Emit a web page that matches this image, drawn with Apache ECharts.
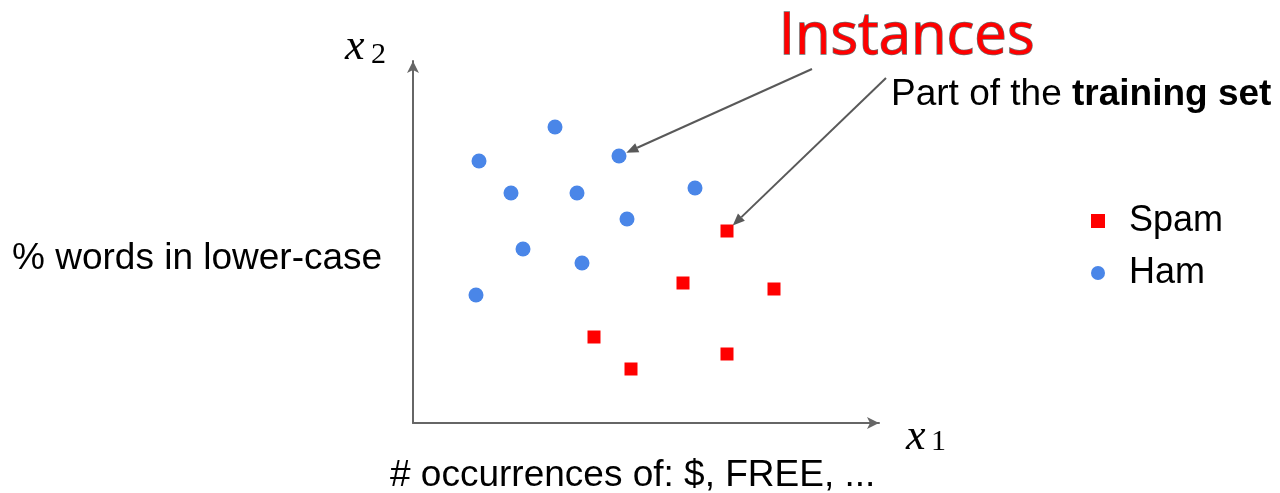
<!DOCTYPE html>
<html>
<head>
<meta charset="utf-8">
<script src="https://cdn.jsdelivr.net/npm/echarts@6/dist/echarts.min.js"></script>
<style>
html,body{margin:0;padding:0;background:#fff;}
#chart{width:1280px;height:493px;}
</style>
</head>
<body>
<div id="chart"></div>
<script>
// ---- data (arbitrary units) ----
const seriesNames = ['Spam', 'Ham'];
const hamX  = [142, 66, 206, 98, 164, 282, 214, 110, 169, 63];
const hamY  = [296, 262, 267, 230, 230, 235, 204, 174, 160, 128];
const spamX = [314, 270, 361, 181, 218, 314];
const spamY = [192, 140, 134, 86, 54, 69];
const xMax = 466;
const yMax = 362;
// annotation arrows: tail position (data units) and index of the target point
const instTail = [399, 354];   // from "Instances" to a Ham point
const instTarget = 2;
const trainTail = [473, 345];  // from "Part of the training set" to a Spam point
const trainTarget = 0;
// texts
const titleText = 'Instances';
const noteA = 'Part of the ';
const noteB = 'training set';
const xName = '# occurrences of: $, FREE, ...';
const yName = '% words in lower-case';

const hamData = hamX.map((x, i) => [x, hamY[i]]);
const spamData = spamX.map((x, i) => [x, spamY[i]]);

const chart = echarts.init(document.getElementById('chart'), null, {renderer: 'canvas'});
const SANS = 'Liberation Sans, Arial, sans-serif';
const SERIF = 'Liberation Serif, Times New Roman, serif';
const axisCommon = {
  type: 'value', min: 0,
  splitLine: {show: false}, axisTick: {show: false}, axisLabel: {show: false},
  axisLine: {show: true, symbol: ['none', 'arrow'], symbolSize: [9, 12],
    lineStyle: {color: '#666', width: 2}}
};
chart.setOption({
  animation: false,
  backgroundColor: '#fff',
  grid: {left: 413, top: 61, width: 466, height: 362},
  xAxis: Object.assign({}, axisCommon, {max: xMax}),
  yAxis: Object.assign({}, axisCommon, {max: yMax}),
  legend: {
    orient: 'vertical', left: 1086, top: 198, itemGap: 16,
    itemWidth: 14, itemHeight: 14,
    textStyle: {fontSize: 36, fontFamily: SANS, color: '#000', padding: [0, 0, 0, 19]},
    data: [{name: 'Spam', icon: 'rect'}, {name: 'Ham', icon: 'circle'}]
  },
  series: [
    {name: 'Spam', type: 'scatter', symbol: 'rect', symbolSize: 13,
     itemStyle: {color: '#ff0000', opacity: 1}, data: spamData},
    {name: 'Ham', type: 'scatter', symbol: 'circle', symbolSize: 15,
     itemStyle: {color: '#4a86e8', opacity: 1}, data: hamData}
  ]
});

function arrow(tailData, targetData, gap) {
  const t = chart.convertToPixel({gridIndex: 0}, tailData);
  const p = chart.convertToPixel({gridIndex: 0}, targetData);
  const dx = t[0] - p[0], dy = t[1] - p[1];
  const len = Math.sqrt(dx * dx + dy * dy);
  const ux = dx / len, uy = dy / len;
  const tip = [p[0] + ux * gap, p[1] + uy * gap];
  const hl = 12, hw = 5;
  const base = [tip[0] + ux * hl, tip[1] + uy * hl];
  const px = -uy, py = ux;
  return [
    {type: 'line', silent: true, z: 50,
     shape: {x1: t[0], y1: t[1], x2: base[0], y2: base[1]},
     style: {stroke: '#595959', lineWidth: 2}},
    {type: 'polygon', silent: true, z: 50,
     shape: {points: [tip, [base[0] + px * hw, base[1] + py * hw], [base[0] - px * hw, base[1] - py * hw]]},
     style: {fill: '#595959'}}
  ];
}

const graphics = [];
graphics.push(...arrow(instTail, hamData[instTarget], 8));
graphics.push(...arrow(trainTail, spamData[trainTarget], 8));
graphics.push(
  {type: 'text', left: 778, top: 8, z: 60,
   style: {text: titleText, font: '58px "Open Sans"', fill: '#ff0000', stroke: '#6e6e6e', lineWidth: 1.4}},
  {type: 'text', left: 891, top: 76, z: 60,
   style: {text: '{r|' + noteA + '}{b|' + noteB + '}', rich: {
     r: {fontSize: 37, fontFamily: SANS, color: '#000'},
     b: {fontSize: 37, fontFamily: SANS, fontWeight: 'bold', color: '#000'}}}},
  {type: 'text', left: 12, top: 240, z: 60,
   style: {text: yName, fontSize: 37, fontFamily: SANS, fill: '#000'}},
  {type: 'text', left: 390, top: 457, z: 60,
   style: {text: xName, fontSize: 37, fontFamily: SANS, fill: '#000'}},
  // axis symbols x2 and x1
  {type: 'text', left: 345, top: 25, z: 60,
   style: {text: 'x', fontSize: 44, fontFamily: SERIF, fontStyle: 'italic', fill: '#000'}},
  {type: 'text', left: 371, top: 40, z: 60,
   style: {text: '2', fontSize: 30, fontFamily: SERIF, fill: '#000'}},
  {type: 'text', left: 906, top: 415, z: 60,
   style: {text: 'x', fontSize: 44, fontFamily: SERIF, fontStyle: 'italic', fill: '#000'}},
  {type: 'text', left: 931, top: 427, z: 60,
   style: {text: '1', fontSize: 30, fontFamily: SERIF, fill: '#000'}}
);
chart.setOption({graphic: graphics});
</script>
</body>
</html>
